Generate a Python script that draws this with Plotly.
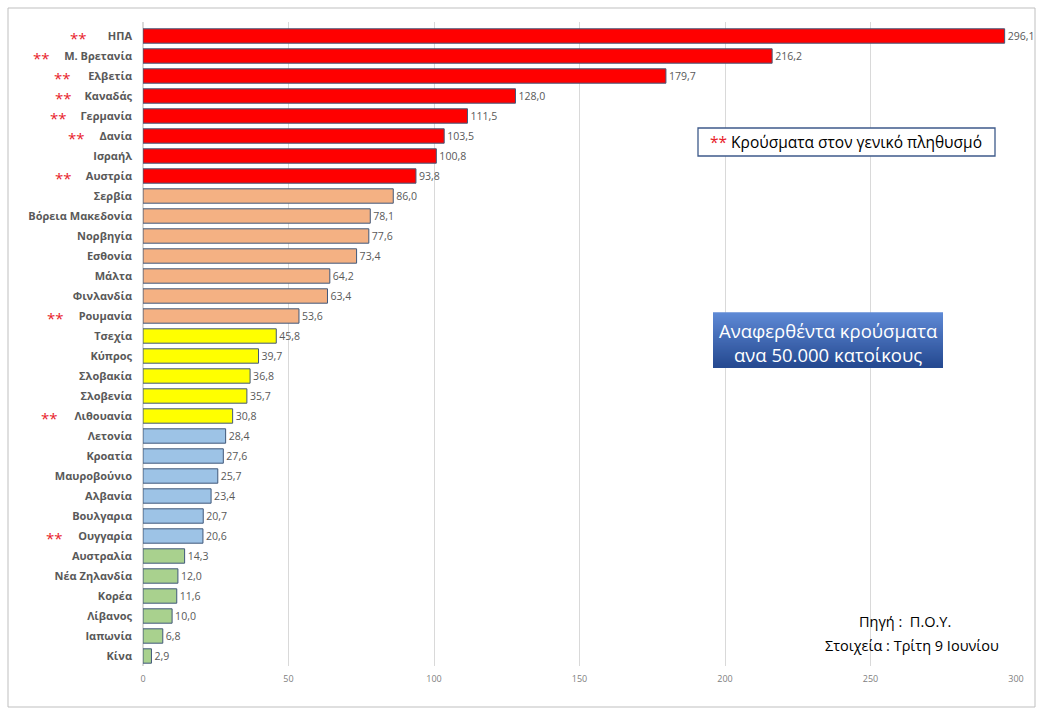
import plotly.graph_objects as go

countries = ["ΗΠΑ", "Μ. Βρετανία", "Ελβετία", "Καναδάς", "Γερμανία", "Δανία", "Ισραήλ", "Αυστρία",
             "Σερβία", "Βόρεια Μακεδονία", "Νορβηγία", "Εσθονία", "Μάλτα", "Φινλανδία", "Ρουμανία",
             "Τσεχία", "Κύπρος", "Σλοβακία", "Σλοβενία", "Λιθουανία",
             "Λετονία", "Κροατία", "Μαυροβούνιο", "Αλβανία", "Βουλγαρια", "Ουγγαρία",
             "Αυστραλία", "Νέα Ζηλανδία", "Κορέα", "Λίβανος", "Ιαπωνία", "Κίνα"]
values = [296.1, 216.2, 179.7, 128.0, 111.5, 103.5, 100.8, 93.8,
          86.0, 78.1, 77.6, 73.4, 64.2, 63.4, 53.6,
          45.8, 39.7, 36.8, 35.7, 30.8,
          28.4, 27.6, 25.7, 23.4, 20.7, 20.6,
          14.3, 12.0, 11.6, 10.0, 6.8, 2.9]
groups = ["r"] * 8 + ["o"] * 7 + ["y"] * 5 + ["b"] * 6 + ["g"] * 6
general_pop = ["ΗΠΑ", "Μ. Βρετανία", "Ελβετία", "Καναδάς", "Γερμανία", "Δανία", "Αυστρία",
               "Ρουμανία", "Λιθουανία", "Ουγγαρία"]
xticks = [0, 50, 100, 150, 200, 250, 300]

group_colors = {"r": "#FF0000", "o": "#F4B183", "y": "#FFFF00", "b": "#9DC3E6", "g": "#A9D18E"}
colors = [group_colors[g] for g in groups]
labels = [f"{v:.1f}".replace(".", ",") for v in values]

W, H = 1043, 715
L, R, T, B = 143, 1016, 22, 666

def px(x):
    return (x - L) / (R - L)

def py(y):
    return (B - y) / (B - T)

fig = go.Figure(go.Bar(
    x=values, y=countries, orientation="h",
    marker=dict(color=colors, line=dict(color="#41587A", width=1)),
    text=labels, textposition="outside", cliponaxis=False,
    textfont=dict(size=11, color="#595959", family="Open Sans"),
    width=0.72,
))

# star positions (pixel x of star centre)
star_x = {"ΗΠΑ": 78, "Μ. Βρετανία": 41, "Ελβετία": 62, "Καναδάς": 63, "Γερμανία": 58,
          "Δανία": 76, "Αυστρία": 63, "Ρουμανία": 55, "Λιθουανία": 49, "Ουγγαρία": 54}
annotations = []
for c in general_pop:
    annotations.append(dict(x=px(star_x[c]), xref="paper", y=c, yref="y", text="**",
                            xanchor="center", yanchor="middle",
                            showarrow=False, font=dict(color="#E8202A", size=15, family="Open Sans"),
                            yshift=-2))

shapes = []
# outer border
shapes.append(dict(type="rect", xref="paper", yref="paper", x0=px(8), x1=px(1035), y0=py(707), y1=py(8),
                   line=dict(color="#BFBFBF", width=1), fillcolor="rgba(0,0,0,0)", layer="below"))
# legend box
shapes.append(dict(type="rect", xref="paper", yref="paper", x0=px(698), x1=px(995), y0=py(156), y1=py(128),
                   line=dict(color="#3E5A8A", width=1.3), fillcolor="white"))
annotations.append(dict(x=px(846), y=py(142), xref="paper", yref="paper", showarrow=False,
                        xanchor="center", yanchor="middle",
                        text="<span style='color:#E8202A'>**</span> Κρούσματα στον γενικό πληθυσμό",
                        font=dict(size=15.5, color="black", family="Open Sans")))
# gradient blue box
n = 55
x0b, x1b, y0b, y1b = 713, 943, 313, 368
c_top = (95, 138, 214)
c_bot = (38, 74, 145)
for i in range(n):
    t = i / (n - 1)
    col = tuple(int(c_top[k] + (c_bot[k] - c_top[k]) * t) for k in range(3))
    ya = y0b + (y1b - y0b) * i / n
    yb = y0b + (y1b - y0b) * (i + 1) / n
    shapes.append(dict(type="rect", xref="paper", yref="paper", x0=px(x0b), x1=px(x1b),
                       y0=py(yb), y1=py(ya) + 0.001, line=dict(width=0),
                       fillcolor=f"rgb{col}"))
annotations.append(dict(x=px(828), y=py(330), xref="paper", yref="paper", showarrow=False,
                        xanchor="center", yanchor="middle",
                        text="Αναφερθέντα κρούσματα",
                        font=dict(size=18.5, color="white", family="Open Sans")))
annotations.append(dict(x=px(828), y=py(354), xref="paper", yref="paper", showarrow=False,
                        xanchor="center", yanchor="middle",
                        text="ανα 50.000 κατοίκους",
                        font=dict(size=18.5, color="white", family="Open Sans")))
annotations.append(dict(x=px(905), y=py(621), xref="paper", yref="paper", showarrow=False,
                        xanchor="center", yanchor="middle",
                        text="Πηγή :  Π.Ο.Υ.",
                        font=dict(size=14.5, color="black", family="Open Sans")))
annotations.append(dict(x=px(912), y=py(645), xref="paper", yref="paper", showarrow=False,
                        xanchor="center", yanchor="middle",
                        text="Στοιχεία : Τρίτη 9 Ιουνίου",
                        font=dict(size=14.5, color="black", family="Open Sans")))

fig.update_layout(
    width=W, height=H,
    margin=dict(l=L, r=W - R, t=T, b=H - B),
    paper_bgcolor="white", plot_bgcolor="white",
    showlegend=False,
    bargap=0.28,
    xaxis=dict(range=[0, 300], tickvals=xticks, showgrid=True, gridcolor="#D9D9D9", gridwidth=1,
               zeroline=True, zerolinecolor="#D9D9D9", showline=False,
               tickfont=dict(size=9, color="#808080", family="Open Sans"), ticks="",
               ticklabelstandoff=6),
    yaxis=dict(autorange="reversed", tickfont=dict(size=11, color="#595959", family="Open Sans"),
               ticks="", ticklabelstandoff=10, showline=False),
    annotations=annotations, shapes=shapes,
    font=dict(family="Open Sans"),
)
fig.update_yaxes(tickprefix="<b>", ticksuffix="</b>")

fig.write_html("out.html", config={"displayModeBar": False},
               post_script="document.body.style.margin='0';document.body.style.overflow='hidden';")
